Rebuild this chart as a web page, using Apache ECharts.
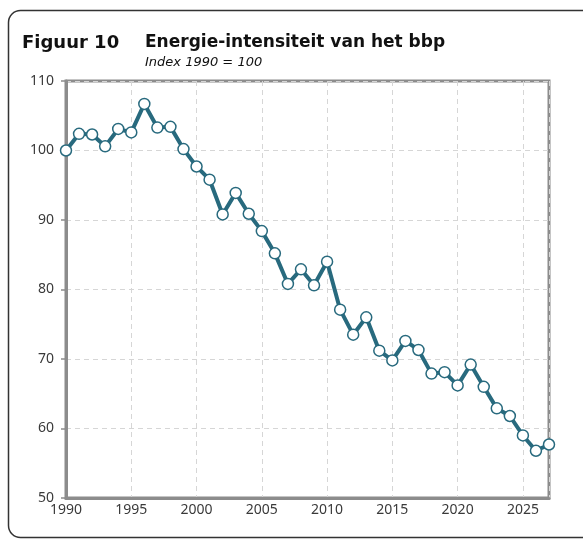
<!DOCTYPE html>
<html><head><meta charset="utf-8">
<script src="https://cdn.jsdelivr.net/npm/echarts@6/dist/echarts.min.js"></script>
<style>html,body{margin:0;padding:0;background:#fff}#c{width:583px;height:541px}</style>
</head><body><div id="c"></div>
<script>
const years = [1990,1991,1992,1993,1994,1995,1996,1997,1998,1999,2000,2001,2002,2003,2004,2005,2006,2007,2008,2009,2010,2011,2012,2013,2014,2015,2016,2017,2018,2019,2020,2021,2022,2023,2024,2025,2026,2027];
const values = [100.0,102.4,102.3,100.6,103.1,102.6,106.7,103.3,103.4,100.2,97.7,95.8,90.8,93.9,90.9,88.4,85.2,80.8,82.9,80.6,84.0,77.1,73.5,76.0,71.2,69.8,72.6,71.3,67.9,68.1,66.2,69.2,66.0,62.9,61.8,59.0,56.8,57.7];
const titleText = 'Figuur 10';
const titleMain = 'Energie-intensiteit van het bbp';
const subtitle = 'Index 1990 = 100';

const chart = echarts.init(document.getElementById('c'), null, {renderer:'canvas'});
const axisGrey = '#8c8c8c';
chart.setOption({
  animation:false,
  graphic:[
    {type:'rect', shape:{x:8.5,y:10.5,width:620,height:527,r:12}, style:{fill:'none',stroke:'#333',lineWidth:1.5}, z:-1},
    {type:'text', left:22, top:34, style:{text:titleText, font:'bold 18px "DejaVu Sans"', fill:'#111'}},
    {type:'text', left:145, top:34, style:{text:titleMain, font:'bold 17px "DejaVu Sans"', fill:'#111'}},
    {type:'text', left:145, top:56, style:{text:subtitle, font:'italic 13px "DejaVu Sans"', fill:'#111'}}
  ],
  grid:{left:66, right:34, top:81, bottom:43, show:true, borderColor:axisGrey, borderWidth:3, backgroundColor:'transparent'},
  xAxis:{type:'value', min:1990, max:2027, interval:5,
    axisLine:{show:true, lineStyle:{color:axisGrey,width:3}},
    axisTick:{show:false},
    axisLabel:{color:'#3a3a3a', fontSize:14, fontFamily:'Noto Sans', margin:5,
      formatter:v=> v<=2025 ? String(v) : ''},
    splitLine:{show:true, lineStyle:{color:'#d6d6d6', type:[5,4], width:1}}},
  yAxis:{type:'value', min:50, max:110, interval:10,
    axisLine:{show:true, lineStyle:{color:axisGrey,width:3}},
    axisTick:{show:true, length:5, lineStyle:{color:axisGrey,width:1.5}},
    axisLabel:{color:'#3a3a3a', fontSize:14, fontFamily:'Noto Sans', margin:12},
    splitLine:{show:true, lineStyle:{color:'#d6d6d6', type:[5,4], width:1}}},
  series:[{type:'line', data:years.map((y,i)=>[y,values[i]]),
    lineStyle:{color:'#286a7e', width:4},
    symbol:'circle', symbolSize:11,
    itemStyle:{color:'#fff', borderColor:'#286a7e', borderWidth:1.5},
    z:5}]
});
</script></body></html>
